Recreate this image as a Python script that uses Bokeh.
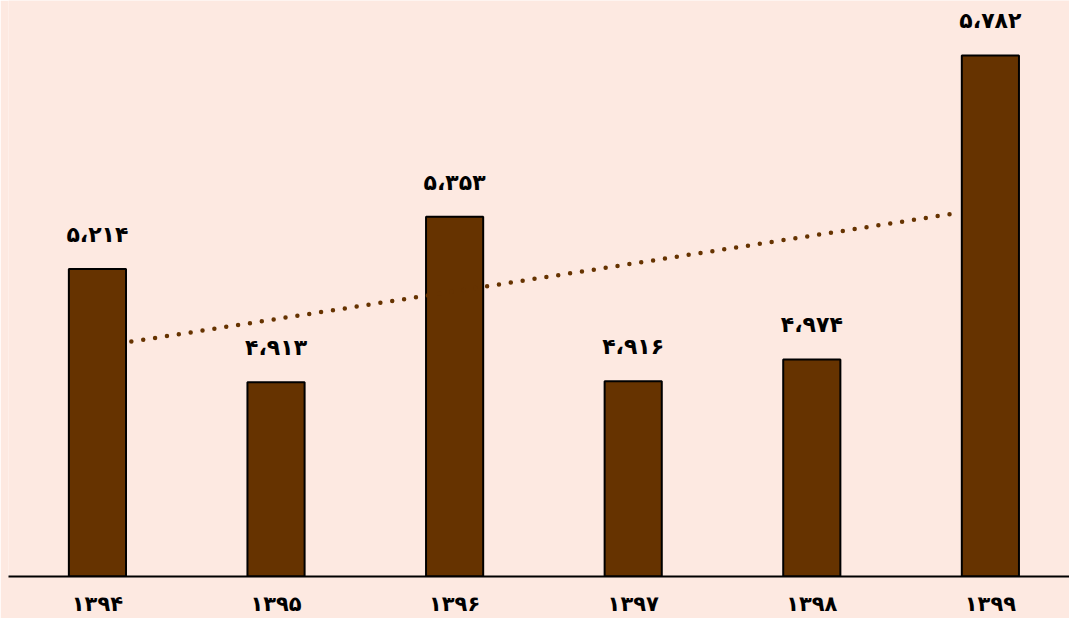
import numpy as np
from bokeh.plotting import figure
from bokeh.models import Range1d, ColumnDataSource, LabelSet
from bokeh.core.properties import value
from bokeh.embed import file_html
from bokeh.resources import INLINE

years = ["۱۳۹۴", "۱۳۹۵", "۱۳۹۶", "۱۳۹۷", "۱۳۹۸", "۱۳۹۹"]
values = [5.214, 4.913, 5.353, 4.916, 4.974, 5.782]

fa_digits = str.maketrans("0123456789.", "۰۱۲۳۴۵۶۷۸۹،")
value_labels = [f"{v:.3f}".translate(fa_digits) for v in values]

x = np.arange(1, len(years) + 1)

BG = "#fde9e1"
BAR = "#663300"
Y0 = 4.397

p = figure(width=1069, height=618, output_backend="svg", toolbar_location=None,
           x_range=Range1d(0.502, 6.443), y_range=Range1d(Y0, 5.928),
           min_border_left=8, min_border_right=0, min_border_top=0, min_border_bottom=42,
           background_fill_color=BG, border_fill_color=BG, outline_line_color=None)

src = ColumnDataSource(dict(x=x, top=values, lab=value_labels))
p.vbar(x="x", top="top", bottom=Y0, width=0.32, source=src,
       fill_color=BAR, line_color="black", line_width=2)

# linear trendline
k, b = np.polyfit(x, values, 1)
tx = np.array([1.19, 5.82])
p.line(tx, k * tx + b, line_color=BAR, line_width=4.5, line_dash="0 12", line_cap="round")

labels = LabelSet(x="x", y="top", text="lab", source=src, x_offset=0, y_offset=22,
                  text_align="center", text_baseline="bottom",
                  text_font=value("DejaVu Sans"), text_font_style="bold",
                  text_font_size="22px", text_color="black")
p.add_layout(labels)

p.xgrid.visible = False
p.ygrid.visible = False
p.yaxis.visible = False
p.xaxis.ticker = list(x)
p.xaxis.major_label_overrides = {int(i): y for i, y in zip(x, years)}
p.xaxis.major_tick_line_color = None
p.xaxis.minor_tick_line_color = None
p.xaxis.axis_line_color = "black"
p.xaxis.axis_line_width = 2
p.xaxis.major_label_standoff = 9
p.xaxis.major_label_text_font = "DejaVu Sans"
p.xaxis.major_label_text_font_style = "bold"
p.xaxis.major_label_text_font_size = "21px"
p.xaxis.major_label_text_color = "black"

open("out.html", "w").write(file_html(p, INLINE))
